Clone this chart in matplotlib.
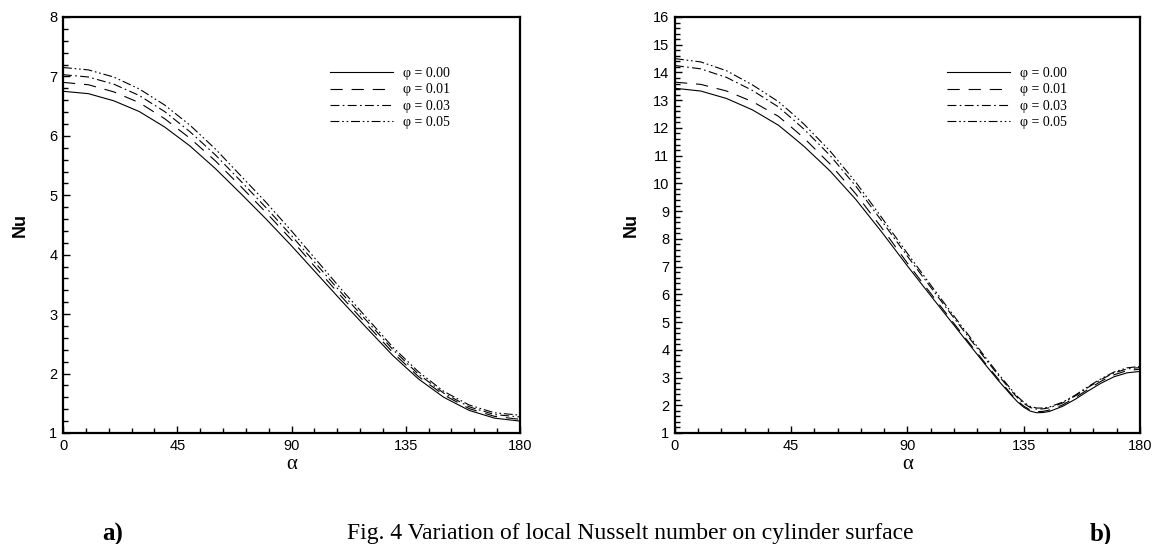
import numpy as np
import matplotlib
matplotlib.use("Agg")
import matplotlib.pyplot as plt
from matplotlib.ticker import MultipleLocator

# ---------------------------------------------------------------------------
# data (local Nusselt number vs angle)
alpha_a = [0, 10, 20, 30, 40, 50, 60, 70, 80, 90, 100, 110, 120, 130, 140, 150, 160, 170, 180]
nu_a_000 = [6.75, 6.71, 6.59, 6.41, 6.15, 5.83, 5.45, 5.03, 4.60, 4.15, 3.68, 3.21, 2.75, 2.30, 1.91, 1.60, 1.38, 1.25, 1.20]
nu_a_001 = [6.90, 6.86, 6.74, 6.56, 6.29, 5.96, 5.58, 5.15, 4.71, 4.25, 3.76, 3.28, 2.81, 2.35, 1.95, 1.64, 1.41, 1.28, 1.23]
nu_a_003 = [7.03, 6.99, 6.87, 6.68, 6.41, 6.07, 5.68, 5.24, 4.79, 4.32, 3.83, 3.34, 2.87, 2.40, 1.99, 1.67, 1.44, 1.31, 1.27]
nu_a_005 = [7.15, 7.11, 6.99, 6.79, 6.52, 6.18, 5.78, 5.33, 4.88, 4.40, 3.90, 3.40, 2.92, 2.44, 2.03, 1.70, 1.47, 1.34, 1.30]

alpha_b = [0, 10, 20, 30, 40, 45, 50, 60, 70, 80, 90, 100, 110, 120, 125, 130, 132.5, 135,
           137.5, 140, 142.5, 145, 150, 155, 160, 165, 170, 175, 180]
nu_b_000 = [13.43, 13.33, 13.06, 12.65, 12.10, 11.72, 11.33, 10.45, 9.42, 8.25, 7.02, 5.83, 4.65, 3.48, 2.91,
            2.38, 2.13, 1.93, 1.79, 1.73, 1.74, 1.78, 1.96, 2.22, 2.52, 2.80, 3.03, 3.17, 3.22]
nu_b_001 = [13.65, 13.57, 13.33, 12.95, 12.42, 12.03, 11.63, 10.70, 9.62, 8.40, 7.12, 5.91, 4.71, 3.53, 2.96,
            2.42, 2.17, 1.97, 1.83, 1.77, 1.78, 1.83, 2.01, 2.28, 2.58, 2.87, 3.10, 3.25, 3.30]
nu_b_003 = [14.25, 14.13, 13.82, 13.35, 12.76, 12.36, 11.95, 11.01, 9.90, 8.65, 7.37, 6.13, 4.90, 3.69, 3.10,
            2.54, 2.28, 2.07, 1.92, 1.86, 1.87, 1.91, 2.08, 2.34, 2.65, 2.93, 3.17, 3.31, 3.36]
nu_b_005 = [14.50, 14.38, 14.06, 13.55, 12.95, 12.55, 12.13, 11.17, 10.04, 8.77, 7.47, 6.21, 4.97, 3.75, 3.15,
            2.59, 2.32, 2.11, 1.96, 1.90, 1.90, 1.94, 2.11, 2.37, 2.68, 2.96, 3.20, 3.35, 3.40]

labels = ["\u03c6 = 0.00", "\u03c6 = 0.01", "\u03c6 = 0.03", "\u03c6 = 0.05"]
dash_styles = ["-", (0, (11, 8)), (0, (8, 3, 1.5, 3)), (0, (8, 2.5, 1.5, 2.5, 1.5, 2.5))]

SANS = "Liberation Sans"
SERIF = "Liberation Serif"

fig = plt.figure(figsize=(11.54, 5.44), dpi=100)
W, H = 1154.0, 544.0


def setup_axes(ax, ymax, ylab_x):
    ax.set_xlim(0, 180)
    ax.set_ylim(1, ymax)
    ax.xaxis.set_major_locator(MultipleLocator(45))
    ax.xaxis.set_minor_locator(MultipleLocator(9))
    ax.yaxis.set_major_locator(MultipleLocator(1))
    ax.yaxis.set_minor_locator(MultipleLocator(0.2))
    ax.tick_params(which="both", direction="in", top=False, right=False, width=1)
    ax.tick_params(which="major", length=5)
    ax.tick_params(which="minor", length=3.5)
    ax.tick_params(axis="x", pad=4.5)
    ax.tick_params(axis="y", pad=4)
    for lab in ax.get_xticklabels() + ax.get_yticklabels():
        lab.set_fontfamily(SANS)
        lab.set_fontsize(10.5)
    for sp in ax.spines.values():
        sp.set_linewidth(1.6)
    ax.set_xlabel("\u03b1", family=SERIF, fontsize=15, va="center")
    ax.xaxis.set_label_coords(0.5, -0.075)
    ax.set_ylabel("Nu", family=SANS, fontsize=13, fontweight="bold", va="center")
    ax.yaxis.set_label_coords(ylab_x, 0.5)


def draw(ax, alpha, series):
    for vals, ls, lab in zip(series, dash_styles, labels):
        ax.plot(alpha, vals, color="black", lw=0.8, linestyle=ls, label=lab)
    ax.legend(loc="upper left", bbox_to_anchor=(0.585, 0.880), frameon=False,
              prop={"family": SERIF, "size": 10}, handlelength=4.5,
              handletextpad=0.75, labelspacing=0.25, borderpad=0, borderaxespad=0)


ax_a = fig.add_axes([63 / W, 1 - 433 / H, 457 / W, 416 / H])
draw(ax_a, alpha_a, [nu_a_000, nu_a_001, nu_a_003, nu_a_005])
setup_axes(ax_a, 8, -0.094)

ax_b = fig.add_axes([675 / W, 1 - 433 / H, 465 / W, 416 / H])
draw(ax_b, alpha_b, [nu_b_000, nu_b_001, nu_b_003, nu_b_005])
setup_axes(ax_b, 16, -0.095)

# caption row
fig.text(113 / W, 1 - 534 / H, "a)", family=SERIF, fontsize=18, fontweight="bold",
         ha="center", va="center")
fig.text(347 / W, 1 - 534 / H, "Fig. 4 Variation of local Nusselt number on cylinder surface",
         family=SERIF, fontsize=17, ha="left", va="center")
fig.text(1101 / W, 1 - 534 / H, "b)", family=SERIF, fontsize=18, fontweight="bold",
         ha="center", va="center")

fig.savefig("out.png", dpi=100)
